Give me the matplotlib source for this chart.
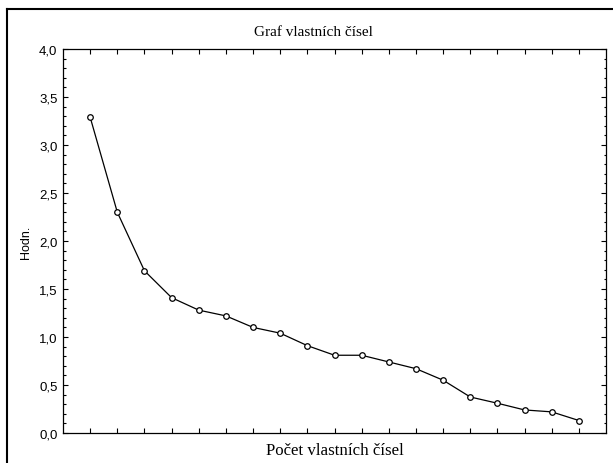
import matplotlib
matplotlib.use("Agg")
from matplotlib import pyplot as plt
from matplotlib.ticker import MultipleLocator, FuncFormatter
from matplotlib.lines import Line2D

# eigenvalues
poradi = list(range(1, 20))
hodnoty = [3.29, 2.30, 1.69, 1.41, 1.28, 1.22, 1.10, 1.04, 0.91, 0.81,
           0.81, 0.74, 0.67, 0.55, 0.375, 0.31, 0.24, 0.22, 0.13]

fig = plt.figure(figsize=(6.13, 4.64), dpi=100)
ax = fig.add_axes([0.1028, 0.0647, 0.8858, 0.8273])

ax.plot(poradi, hodnoty, color="black", linewidth=0.9, marker="o",
        markersize=4, markerfacecolor="white", markeredgecolor="black",
        markeredgewidth=0.9)

ax.set_xlim(0, 20)
ax.set_ylim(0, 4)
ax.set_xticks(poradi)
ax.set_xticklabels([])
ax.yaxis.set_major_locator(MultipleLocator(0.5))
ax.yaxis.set_minor_locator(MultipleLocator(0.1))
ax.yaxis.set_major_formatter(FuncFormatter(lambda v, p: f"{v:.1f}".replace(".", ",")))

ax.tick_params(axis="both", which="both", direction="in", top=True, right=True,
               color="black", width=0.8)
ax.tick_params(axis="both", which="major", length=3.5)
ax.tick_params(axis="y", which="minor", length=1.8)
ax.tick_params(axis="y", labelsize=9.5, pad=4)
for lab in ax.get_yticklabels():
    lab.set_family("Liberation Sans")
for s in ax.spines.values():
    s.set_linewidth(0.9)

# title sits a bit left of the axes centre
fig.text(313 / 613, 1 - 32 / 464, "Graf vlastních čísel", family="Liberation Serif",
         fontsize=11, ha="center", va="center")
ax.set_xlabel("Počet vlastních čísel", family="Liberation Serif", fontsize=12.2, labelpad=3)
ax.set_ylabel("Hodn.", family="Liberation Sans", fontsize=9, labelpad=5)

# outer frame (top and left edge of the cropped picture)
fig.add_artist(Line2D([7 / 613, 1], [1 - 10 / 464, 1 - 10 / 464], color="black", linewidth=1.5,
                      transform=fig.transFigure))
fig.add_artist(Line2D([7 / 613, 7 / 613], [0, 1 - 10 / 464], color="black", linewidth=1.5,
                      transform=fig.transFigure))

plt.savefig("out.png", dpi=100)
plt.close()
